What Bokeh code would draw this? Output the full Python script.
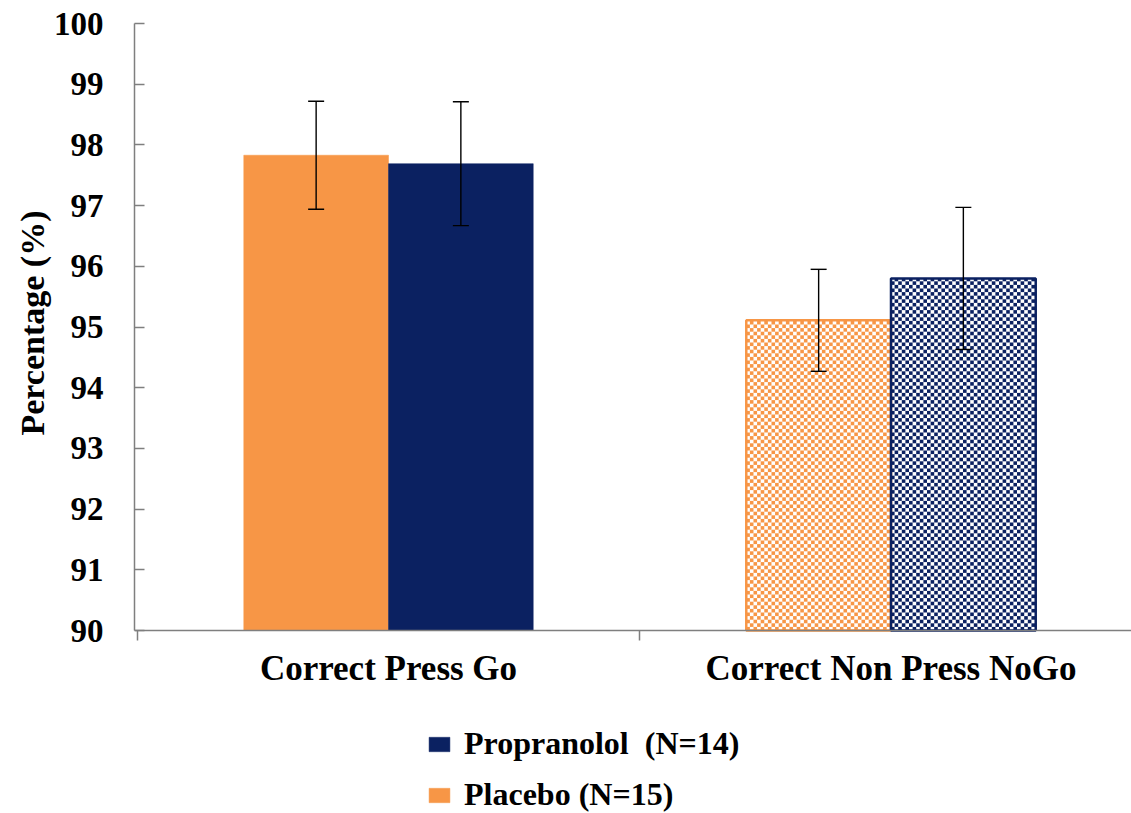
import numpy as np

from bokeh.plotting import figure
from bokeh.models import (ColumnDataSource, Whisker, TeeHead, FixedTicker, Range1d,
                          Legend, LegendItem, Title)
from bokeh.embed import file_html
from bokeh.resources import INLINE

# Task conditions and groups
categories = ["Correct Press Go", "Correct Non Press NoGo"]
groups = ["Placebo (N=15)", "Propranolol  (N=14)"]
colors = ["#F79646", "#0B2161"]

# Mean percentage correct and standard error per group
placebo_mean = [97.83, 95.11]
placebo_err = [0.89, 0.84]
propranolol_mean = [97.69, 95.80]
propranolol_err = [1.02, 1.17]

y_ticks = [90, 91, 92, 93, 94, 95, 96, 97, 98, 99, 100]

FONT = "Liberation Serif"
BAR_W = 0.288
Y0, Y1 = 90, 100

# The frame runs to the bottom of the page so the legend can sit under the
# category labels; the value axis keeps 60.7 px per percentage point.
W, H, TOP, LEFT = 1131, 813, 23, 134
PX_PER_PCT = 60.7
PX_PER_CAT = 502.5
FRAME_W, FRAME_H = W - LEFT, H - TOP
X_START = -2.75 / PX_PER_CAT
X_END = X_START + FRAME_W / PX_PER_CAT
Y_LOW = Y1 - FRAME_H / PX_PER_PCT
CELL_PX = 3.6

p = figure(width=W, height=H, output_backend="svg", toolbar_location=None,
           x_range=Range1d(X_START, X_END), y_range=Range1d(Y_LOW, Y1),
           min_border_left=LEFT, min_border_right=0, min_border_top=TOP,
           min_border_bottom=0)
p.outline_line_color = None
p.grid.visible = False
p.background_fill_color = "white"
p.border_fill_color = "white"


def checker_cells(xc, top):
    """Alternate squares covering a bar centred at xc, from the baseline to top."""
    dx = CELL_PX / PX_PER_CAT
    dy = CELL_PX / PX_PER_PCT
    left0 = xc - BAR_W / 2
    right0 = xc + BAR_W / 2
    nx = int(np.ceil(BAR_W / dx))
    ny = int(np.ceil((top - Y0) / dy))
    L, R, B, T = [], [], [], []
    for j in range(ny):
        for i in range(nx):
            if (i + j) % 2:
                continue
            l = left0 + i * dx
            b = Y0 + j * dy
            L.append(l)
            R.append(min(l + dx, right0))
            B.append(b)
            T.append(min(b + dy, top))
    return dict(left=L, right=R, bottom=B, top=T)


series = [(placebo_mean, placebo_err, -BAR_W / 2, colors[0]),
          (propranolol_mean, propranolol_err, BAR_W / 2, colors[1])]

legend_bars = []
for means, errs, off, col in series:
    xs = [i + 0.5 + off for i in range(len(categories))]
    # Go: solid bar
    solid = ColumnDataSource(dict(x=xs[:1], top=means[:1]))
    legend_bars.append(p.vbar(x="x", top="top", bottom=Y0, width=BAR_W, source=solid,
                              fill_color=col, line_color=col, line_width=0.5))
    # NoGo: checkerboard bar with outline
    p.quad(source=ColumnDataSource(checker_cells(xs[1], means[1])),
           left="left", right="right", bottom="bottom", top="top",
           fill_color=col, line_color=None)
    checked = ColumnDataSource(dict(x=xs[1:], top=means[1:]))
    p.vbar(x="x", top="top", bottom=Y0, width=BAR_W, source=checked,
           fill_color=None, line_color=col, line_width=2.5)
    # standard-error whiskers
    err_src = ColumnDataSource(dict(x=xs,
                                    upper=[m + e for m, e in zip(means, errs)],
                                    lower=[m - e for m, e in zip(means, errs)]))
    p.add_layout(Whisker(source=err_src, base="x", upper="upper", lower="lower",
                         level="annotation",
                         line_color="black", line_width=1.4,
                         upper_head=TeeHead(size=16, line_color="black", line_width=1.4),
                         lower_head=TeeHead(size=16, line_color="black", line_width=1.4)))

# y axis, limited to the 90-100 span
ya = p.yaxis[0]
ya.bounds = (Y0, Y1)
ya.ticker = FixedTicker(ticks=y_ticks)
ya.axis_line_color = "#7f7f7f"
ya.axis_line_width = 1.5
ya.major_tick_line_color = "#7f7f7f"
ya.major_tick_line_width = 1.5
ya.major_tick_in = 10
ya.major_tick_out = 0
ya.minor_tick_line_color = None
ya.major_label_text_font = FONT
ya.major_label_text_font_style = "bold"
ya.major_label_text_font_size = "33px"
ya.major_label_text_color = "black"
ya.major_label_standoff = 31

# vertical axis title, centred on the 90-100 span rather than the whole frame
ytitle = Title(text="Percentage (%)", align="left", offset=378,
               text_font=FONT, text_font_style="bold", text_font_size="34px",
               text_color="black", standoff=0)
p.add_layout(ytitle, "left")

# x axis drawn at the 90 % baseline: labels at category centres,
# ticks at category boundaries
xa = p.xaxis[0]
xa.fixed_location = Y0
xa.ticker = FixedTicker(ticks=[i + 0.5 for i in range(len(categories))],
                        minor_ticks=list(range(len(categories) + 1)))
xa.major_label_overrides = {i + 0.5: c for i, c in enumerate(categories)}
xa.axis_line_color = "#7f7f7f"
xa.axis_line_width = 1.5
xa.major_tick_line_color = None
xa.minor_tick_line_color = "#7f7f7f"
xa.minor_tick_line_width = 1.5
xa.minor_tick_in = 0
xa.minor_tick_out = 10
xa.major_label_text_font = FONT
xa.major_label_text_font_style = "bold"
xa.major_label_text_font_size = "35px"
xa.major_label_text_color = "black"
xa.major_label_standoff = 8

legend = Legend(items=[LegendItem(label=groups[1], renderers=[legend_bars[1]]),
                       LegendItem(label=groups[0], renderers=[legend_bars[0]])],
                location=(292, 0), orientation="vertical",
                label_text_font=FONT, label_text_font_style="bold",
                label_text_font_size="32px", label_text_color="black",
                glyph_width=26, glyph_height=18, spacing=14, padding=2,
                label_standoff=12, border_line_color=None,
                background_fill_alpha=0)
p.add_layout(legend, "center")

open("out.html", "w").write(file_html(p, INLINE))
